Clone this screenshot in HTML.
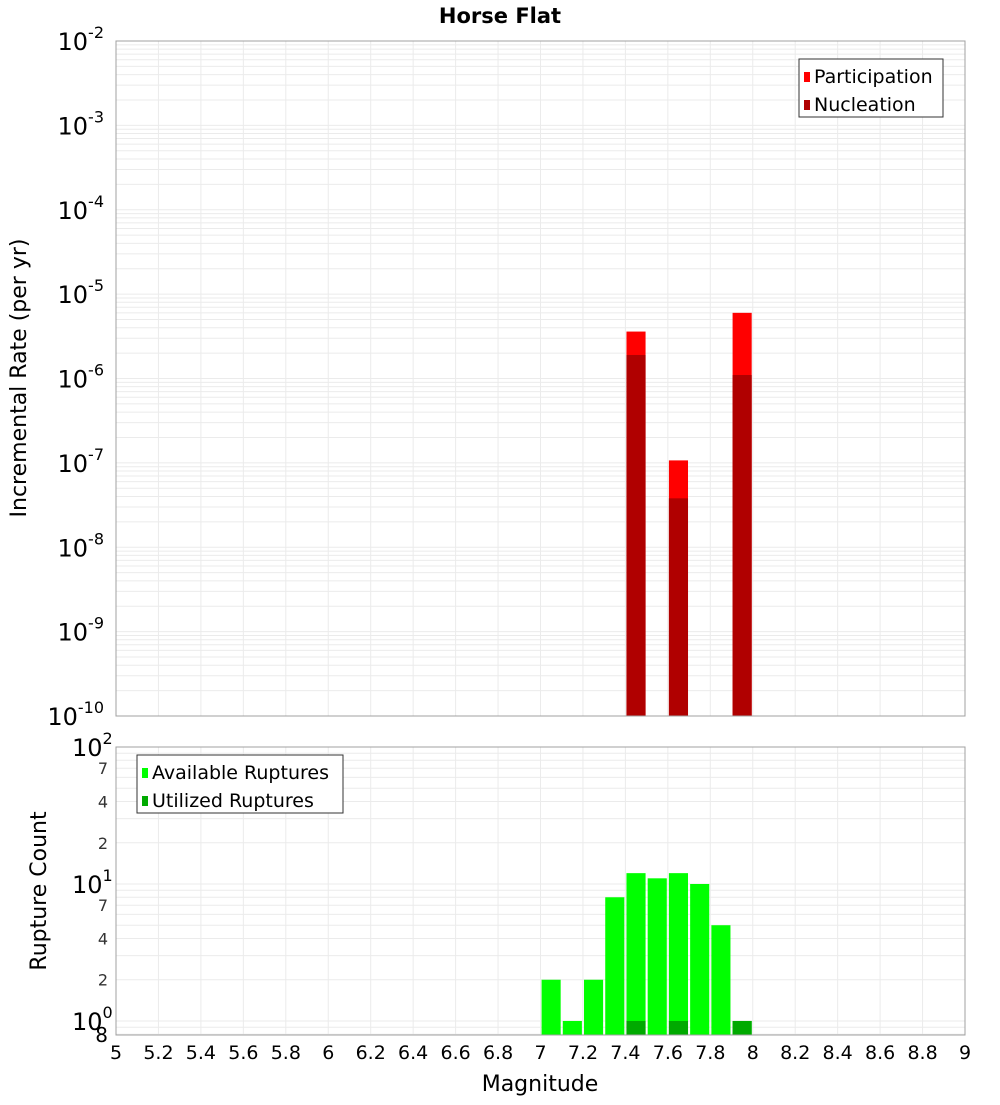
<!DOCTYPE html>
<html><head><meta charset="utf-8"><style>
body{margin:0;background:#fff;width:1000px;height:1100px;overflow:hidden}
svg text{font-family:"DejaVu Sans","Liberation Sans",sans-serif}
</style></head><body>
<svg id="chart" width="1000" height="1100" xmlns="http://www.w3.org/2000/svg">
<text x="500" y="23" text-anchor="middle" font-size="21" font-weight="bold">Horse Flat</text>
<g id="topPlot"></g><g id="botPlot"></g>
<text transform="translate(26,378) rotate(-90)" text-anchor="middle" font-size="22">Incremental Rate (per yr)</text>
<text transform="translate(46,891) rotate(-90)" text-anchor="middle" font-size="22">Rupture Count</text>
<text x="540" y="1091" text-anchor="middle" font-size="22">Magnitude</text>
</svg>
<script>
const mags=[7.45,7.65,7.95];
const participation=[3.6e-6,1.07e-7,6.0e-6];
const nucleation=[1.9e-6,3.8e-8,1.1e-6];
const cntMags=[7.05,7.15,7.25,7.35,7.45,7.55,7.65,7.75,7.85,7.95];
const available=[2,1,2,8,12,11,12,10,5,1];
const utilized=[0,0,0,0,1,0,1,0,0,1];
const xTicks=[5,5.2,5.4,5.6,5.8,6,6.2,6.4,6.6,6.8,7,7.2,7.4,7.6,7.8,8,8.2,8.4,8.6,8.8,9];
const topExps=[-2,-3,-4,-5,-6,-7,-8,-9,-10];
const botMinor=[2,4,7,20,40,70];

const NS="http://www.w3.org/2000/svg";
const L=116,R=965;
const X=m=>L+(m-5)/4*(R-L);
const TT=41,TB=716, BT=747,BB=1035;
const yTop=v=>TT+(-2-Math.log10(v))/8*(TB-TT);
const bMin=Math.log10(0.79);
const yBot=v=>BT+(2-Math.log10(v))/(2-bMin)*(BB-BT);
function el(p,t,a,txt){const e=document.createElementNS(NS,t);for(const k in a)e.setAttribute(k,a[k]);if(txt!==undefined)e.textContent=txt;p.appendChild(e);return e;}
const gTop=document.getElementById('topPlot'),gBot=document.getElementById('botPlot');

for(let e=-10;e<-2;e++)for(let k=1;k<10;k++){const y=yTop(k*Math.pow(10,e));
 const g=el(gTop,'line',{x1:L,x2:R,y1:y,y2:y,stroke:'#ebebeb','stroke-width':1});
 
 }
for(let i=0;i<xTicks.length;i++){for(const [yy1,yy2,p] of [[TT,TB,gTop],[BT,BB,gBot]]){
 const g=el(p,'line',{x1:X(xTicks[i]),x2:X(xTicks[i]),y1:yy1,y2:yy2,stroke:'#ebebeb'});
 
 }}
for(let e=-1;e<2;e++)for(let k=1;k<10;k++){const v=k*Math.pow(10,e);if(v<0.79)continue;const y=yBot(v);
 const g=el(gBot,'line',{x1:L,x2:R,y1:y,y2:y,stroke:'#ebebeb'});
 
 }

const bw=0.09;
for(let i=0;i<mags.length;i++){
 const x=X(mags[i]-bw/2),w=X(bw)-X(0);
 const p=el(gTop,'rect',{x:x,y:yTop(participation[i]),width:w,height:TB-yTop(participation[i]),fill:'#ff0000'});
 
 
 const n=el(gTop,'rect',{x:x,y:yTop(nucleation[i]),width:w,height:TB-yTop(nucleation[i]),fill:'#b00000'});
 
 
}
for(let i=0;i<cntMags.length;i++){
 const x=X(cntMags[i]-bw/2),w=X(bw)-X(0);
 if(available[i]>0){const a=el(gBot,'rect',{x:x,y:yBot(available[i]),width:w,height:BB-yBot(available[i]),fill:'#00ff00'});
 
 }
 if(utilized[i]>0){const u=el(gBot,'rect',{x:x,y:yBot(utilized[i]),width:w,height:BB-yBot(utilized[i]),fill:'#00aa00'});
 
 }
}
for(const [p,t,b] of [[gTop,TT,TB],[gBot,BT,BB]]){const f=el(p,'rect',{x:L,y:t,width:R-L,height:b-t,fill:'none',stroke:'#a0a0a0'});
 
 }
for(const e of topExps){const y=yTop(Math.pow(10,e));
 const t=el(gTop,'text',{x:104,y:y+9,'text-anchor':'end','font-size':24});
 
 
 t.textContent='10';
 el(t,'tspan',{dy:-12,'font-size':16},String(e));}
for(const e of [2,1,0]){const y=yBot(Math.pow(10,e));
 const t=el(gBot,'text',{x:72,y:y+9,'font-size':24});
 
 
 t.textContent='10';
 el(t,'tspan',{dy:-12,'font-size':16},String(e));}
for(const v of botMinor){const t=el(gBot,'text',{x:108,y:yBot(v)+6,'text-anchor':'end','font-size':16,fill:'#333'},String(v>=10?v/10:v));
 
 }
const e8=el(gBot,'text',{x:108,y:1042,'text-anchor':'end','font-size':20},'8');


for(const m of xTicks){const t=el(gBot,'text',{x:X(m),y:1059,'text-anchor':'middle','font-size':19},String(m));
 
 }
function legend(p,x,y,w,items){const g=el(p,'g',{});
 
 
 el(g,'rect',{x:x,y:y,width:w,height:58,fill:'#fff',stroke:'#333'});
 items.forEach((it,i)=>{const s=el(g,'rect',{x:x+5,y:y+13+i*28,width:6,height:10,fill:it[1]});
  
  
  const t=el(g,'text',{x:x+15,y:y+24+i*28,'font-size':19},it[0]);
  
  });}
legend(gTop,799,59,144,[['Participation','#ff0000'],['Nucleation','#b00000']]);
legend(gBot,137,755,206,[['Available Ruptures','#00ff00'],['Utilized Ruptures','#00aa00']]);
</script>
</body></html>
